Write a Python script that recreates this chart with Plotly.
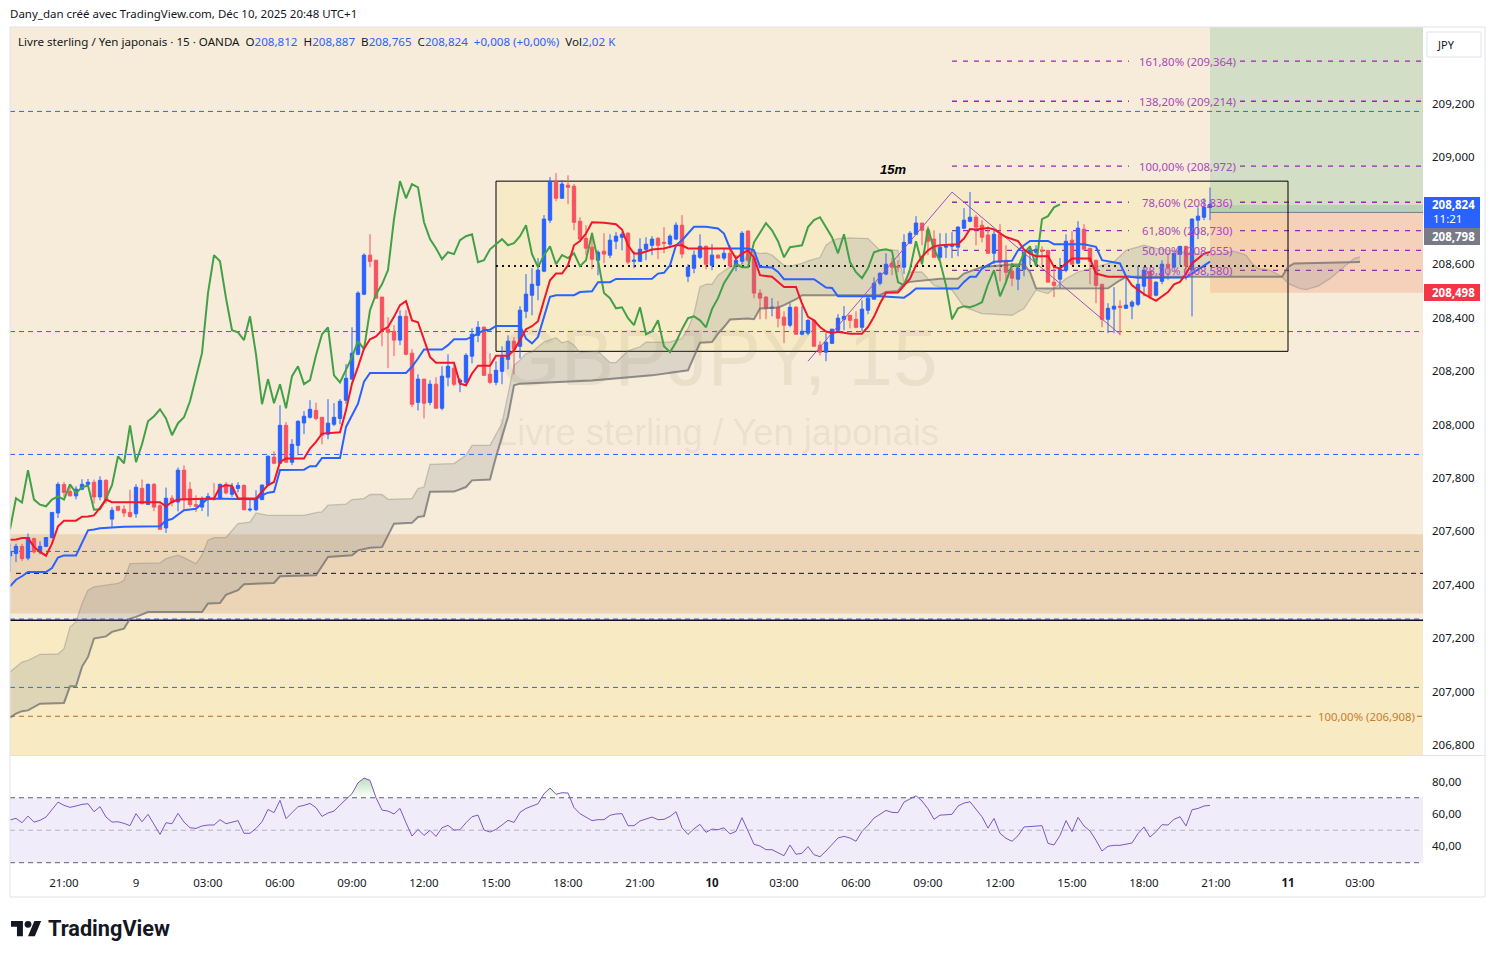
import plotly.graph_objects as go

W = 1495
H = 958
UI_FONT = "Noto Sans"

# Bars are counted in 15 minute steps from Dec 8 21:00
first_bar = -9
opens = [
    207.508, 207.517, 207.544, 207.500, 207.573, 207.523, 207.544, 207.577, 207.669, 207.775,
    207.750, 207.733, 207.758, 207.776, 207.784, 207.729, 207.791, 207.646, 207.694, 207.683,
    207.671, 207.666, 207.761, 207.701, 207.776, 207.696, 207.613, 207.724, 207.710, 207.829,
    207.758, 207.700, 207.691, 207.719, 207.723, 207.723, 207.776, 207.739, 207.761, 207.772,
    207.680, 207.681,
    207.719, 207.773, 207.878, 207.855, 207.997, 207.859, 207.922, 208.006, 208.027, 208.053,
    208.027, 207.964, 208.001, 208.023, 208.091, 208.170, 208.263, 208.488, 208.634, 208.615,
    208.477, 208.357, 208.349, 208.316, 208.405, 208.267, 208.083, 208.170, 208.083, 208.151,
    208.061, 208.177, 208.211, 208.158, 208.158, 208.256, 208.334, 208.364, 208.188, 208.158,
    208.199, 208.244, 208.312, 208.293, 208.424, 208.484, 208.521, 208.574, 208.765, 208.911,
    208.847, 208.896, 208.892, 208.761, 208.697, 208.664, 208.615, 208.649, 208.634, 208.686,
    208.701, 208.716, 208.611, 208.611, 208.656, 208.671, 208.697, 208.682, 208.675, 208.694,
    208.746, 208.555, 208.585, 208.626, 208.667, 208.596, 208.634, 208.623, 208.641, 208.593,
    208.611, 208.724, 208.623, 208.492, 208.477, 208.435, 208.439, 208.402, 208.372, 208.439,
    208.338, 208.342, 208.390, 208.297, 208.271, 208.304, 208.353, 208.394, 208.409, 208.394,
    208.364, 208.428, 208.469, 208.529, 208.563, 208.604, 208.593, 208.589, 208.679, 208.712,
    208.754, 208.727, 208.694, 208.626, 208.664, 208.667, 208.664, 208.735, 208.761, 208.776,
    208.746, 208.709, 208.641, 208.712, 208.615, 208.574, 208.544, 208.581, 208.641, 208.645,
    208.652, 208.652, 208.533, 208.544, 208.578, 208.690, 208.604, 208.731, 208.660, 208.615,
    208.525, 208.394, 208.432, 208.443, 208.435, 208.443, 208.450, 208.518, 208.574, 208.484,
    208.536, 208.600, 208.589, 208.637, 208.667, 208.578, 208.765, 208.776, 208.812,
]
highs = [
    207.554, 207.554, 207.554, 207.592, 207.577, 207.563, 207.579, 207.671, 207.784, 207.785,
    207.773, 207.769, 207.795, 207.796, 207.794, 207.806, 207.795, 207.691, 207.694, 207.698,
    207.756, 207.776, 207.794, 207.779, 207.781, 207.704, 207.764, 207.735, 207.839, 207.847,
    207.785, 207.735, 207.731, 207.744, 207.781, 207.779, 207.785, 207.781, 207.784, 207.776,
    207.719, 207.754,
    207.776, 207.885, 207.900, 208.072, 208.009, 207.945, 208.016, 208.050, 208.091, 208.082,
    208.027, 208.095, 208.080, 208.095, 208.226, 208.364, 208.499, 208.641, 208.712, 208.615,
    208.477, 208.402, 208.372, 208.428, 208.428, 208.282, 208.188, 208.170, 208.166, 208.177,
    208.218, 208.263, 208.222, 208.173, 208.267, 208.360, 208.387, 208.368, 208.267, 208.237,
    208.293, 208.334, 208.327, 208.443, 208.563, 208.585, 208.623, 208.784, 208.926, 208.941,
    208.915, 208.933, 208.900, 208.776, 208.746, 208.720, 208.652, 208.716, 208.712, 208.720,
    208.720, 208.720, 208.649, 208.697, 208.701, 208.705, 208.701, 208.739, 208.712, 208.757,
    208.784, 208.600, 208.652, 208.712, 208.671, 208.675, 208.637, 208.660, 208.671, 208.634,
    208.724, 208.727, 208.652, 208.506, 208.480, 208.473, 208.462, 208.424, 208.454, 208.443,
    208.443, 208.394, 208.390, 208.312, 208.342, 208.357, 208.413, 208.443, 208.409, 208.424,
    208.465, 208.484, 208.551, 208.570, 208.641, 208.623, 208.615, 208.712, 208.724, 208.780,
    208.754, 208.742, 208.727, 208.716, 208.716, 208.720, 208.742, 208.810, 208.870, 208.784,
    208.765, 208.742, 208.727, 208.750, 208.671, 208.600, 208.600, 208.656, 208.667, 208.671,
    208.667, 208.652, 208.590, 208.623, 208.712, 208.724, 208.761, 208.750, 208.660, 208.615,
    208.525, 208.454, 208.514, 208.465, 208.551, 208.465, 208.593, 208.589, 208.574, 208.536,
    208.615, 208.641, 208.641, 208.667, 208.667, 208.772, 208.813, 208.847, 208.887,
]
lows = [
    207.448, 207.485, 207.489, 207.492, 207.517, 207.514, 207.542, 207.573, 207.650, 207.729,
    207.731, 207.720, 207.754, 207.773, 207.704, 207.716, 207.704, 207.614, 207.676, 207.654,
    207.651, 207.651, 207.701, 207.701, 207.676, 207.608, 207.594, 207.694, 207.675, 207.681,
    207.691, 207.673, 207.676, 207.656, 207.716, 207.719, 207.738, 207.729, 207.746, 207.679,
    207.674, 207.676,
    207.717, 207.769, 207.851, 207.854, 207.859, 207.848, 207.885, 207.964, 208.022, 208.016,
    207.926, 207.945, 207.994, 208.001, 208.078, 208.166, 208.259, 208.484, 208.589, 208.473,
    208.293, 208.211, 208.256, 208.297, 208.259, 208.065, 208.053, 208.023, 208.072, 208.061,
    208.053, 208.143, 208.143, 208.121, 208.143, 208.229, 208.308, 208.184, 208.151, 208.147,
    208.151, 208.207, 208.188, 208.247, 208.398, 208.409, 208.465, 208.570, 208.754, 208.836,
    208.847, 208.825, 208.727, 208.690, 208.634, 208.581, 208.559, 208.604, 208.623, 208.656,
    208.652, 208.600, 208.585, 208.608, 208.615, 208.634, 208.619, 208.641, 208.660, 208.690,
    208.623, 208.533, 208.566, 208.619, 208.581, 208.578, 208.623, 208.615, 208.593, 208.574,
    208.600, 208.608, 208.473, 208.394, 208.394, 208.405, 208.364, 208.304, 208.364, 208.338,
    208.334, 208.334, 208.293, 208.259, 208.237, 208.301, 208.345, 208.353, 208.360, 208.360,
    208.349, 208.413, 208.469, 208.521, 208.559, 208.559, 208.570, 208.563, 208.675, 208.709,
    208.671, 208.634, 208.626, 208.615, 208.623, 208.623, 208.630, 208.731, 208.757, 208.671,
    208.682, 208.640, 208.600, 208.536, 208.528, 208.518, 208.503, 208.555, 208.596, 208.596,
    208.596, 208.533, 208.477, 208.510, 208.570, 208.600, 208.600, 208.652, 208.525, 208.454,
    208.364, 208.342, 208.342, 208.334, 208.435, 208.394, 208.443, 208.480, 208.469, 208.480,
    208.525, 208.540, 208.585, 208.596, 208.540, 208.405, 208.694, 208.765, 208.765,
]
closes = [
    207.525, 207.544, 207.498, 207.577, 207.523, 207.544, 207.577, 207.671, 207.776, 207.746,
    207.733, 207.758, 207.776, 207.784, 207.729, 207.791, 207.719, 207.679, 207.679, 207.669,
    207.656, 207.765, 207.704, 207.776, 207.691, 207.608, 207.724, 207.708, 207.829, 207.719,
    207.700, 207.694, 207.719, 207.731, 207.719, 207.776, 207.744, 207.765, 207.772, 207.681,
    207.683, 207.723,
    207.773, 207.881, 207.855, 207.997, 207.859, 207.926, 208.012, 208.031, 208.057, 208.023,
    207.960, 208.005, 208.027, 208.087, 208.173, 208.267, 208.492, 208.634, 208.611, 208.473,
    208.353, 208.345, 208.316, 208.405, 208.263, 208.076, 208.170, 208.080, 208.151, 208.061,
    208.181, 208.218, 208.151, 208.166, 208.259, 208.338, 208.364, 208.184, 208.158, 208.203,
    208.252, 208.312, 208.282, 208.428, 208.488, 208.525, 208.578, 208.769, 208.911, 208.847,
    208.900, 208.888, 208.757, 208.694, 208.660, 208.619, 208.645, 208.638, 208.690, 208.705,
    208.712, 208.608, 208.615, 208.656, 208.675, 208.694, 208.671, 208.679, 208.705, 208.746,
    208.638, 208.589, 208.634, 208.667, 208.600, 208.634, 208.623, 208.641, 208.593, 208.615,
    208.716, 208.615, 208.492, 208.473, 208.435, 208.439, 208.398, 208.372, 208.439, 208.338,
    208.349, 208.390, 208.293, 208.271, 208.308, 208.357, 208.398, 208.405, 208.390, 208.364,
    208.432, 208.473, 208.529, 208.566, 208.600, 208.589, 208.589, 208.682, 208.716, 208.754,
    208.727, 208.686, 208.626, 208.664, 208.667, 208.671, 208.739, 208.765, 208.776, 208.739,
    208.701, 208.641, 208.712, 208.608, 208.570, 208.548, 208.585, 208.645, 208.652, 208.656,
    208.649, 208.533, 208.521, 208.581, 208.686, 208.600, 208.735, 208.656, 208.611, 208.521,
    208.394, 208.435, 208.443, 208.439, 208.447, 208.458, 208.525, 208.578, 208.480, 208.533,
    208.600, 208.589, 208.641, 208.667, 208.593, 208.769, 208.780, 208.813, 208.824,
]

# Ichimoku lagging line
chikou = [
    207.608, 207.724, 207.708, 207.829, 207.719, 207.700, 207.694, 207.719, 207.731, 207.719,
    207.776, 207.744, 207.765, 207.772, 207.681, 207.683, 207.723,
    207.773, 207.881, 207.855, 207.997, 207.859, 207.926, 208.012, 208.031, 208.057, 208.023,
    207.960, 208.005, 208.027, 208.087, 208.173, 208.267, 208.492, 208.634, 208.611, 208.473,
    208.353, 208.345, 208.316, 208.405, 208.263, 208.076, 208.170, 208.080, 208.151, 208.061,
    208.181, 208.218, 208.151, 208.166, 208.259, 208.338, 208.364, 208.184, 208.158, 208.203,
    208.252, 208.312, 208.282, 208.428, 208.488, 208.525, 208.578, 208.769, 208.911, 208.847,
    208.900, 208.888, 208.757, 208.694, 208.660, 208.619, 208.645, 208.638, 208.690, 208.705,
    208.712, 208.608, 208.615, 208.656, 208.675, 208.694, 208.671, 208.679, 208.705, 208.746,
    208.638, 208.589, 208.634, 208.667, 208.600, 208.634, 208.623, 208.641, 208.593, 208.615,
    208.716, 208.615, 208.492, 208.473, 208.435, 208.439, 208.398, 208.372, 208.439, 208.338,
    208.349, 208.390, 208.293, 208.271, 208.308, 208.357, 208.398, 208.405, 208.390, 208.364,
    208.432, 208.473, 208.529, 208.566, 208.600, 208.589, 208.589, 208.682, 208.716, 208.754,
    208.727, 208.686, 208.626, 208.664, 208.667, 208.671, 208.739, 208.765, 208.776, 208.739,
    208.701, 208.641, 208.712, 208.608, 208.570, 208.548, 208.585, 208.645, 208.652, 208.656,
    208.649, 208.533, 208.521, 208.581, 208.686, 208.600, 208.735, 208.656, 208.611, 208.521,
    208.394, 208.435, 208.443, 208.439, 208.447, 208.458, 208.525, 208.578, 208.480, 208.533,
    208.600, 208.589, 208.641, 208.667, 208.593, 208.769, 208.780, 208.813, 208.824,
]

# Tenkan and Kijun are step like, so only their corners are listed
tenkan_bars = [
    -9, -8, -7, -6, -5, -4, -3, -2, -1, 0, 2, 3, 4, 5, 6, 7, 8, 16, 17, 18, 19, 25, 26, 27, 28, 29, 32, 33, 34,
    35, 36, 37, 40, 41, 42, 43, 46, 47, 48, 49, 50, 51, 52, 53, 54, 55, 56, 57, 58, 59, 60, 61, 62, 65, 66, 67,
    68, 69, 71, 72, 74, 75, 76, 77, 78, 79, 80, 81, 82, 83, 84, 85, 86, 87, 88, 90, 92, 93, 94, 95, 96, 98, 100,
    102, 103, 104, 111, 112, 113, 114, 115, 116, 118, 120, 122, 123, 124, 125, 126, 127, 128, 129, 131, 133, 134,
    135, 136, 137, 139, 140, 141, 142, 143, 144, 145, 146, 148, 149, 150, 151, 152, 154, 155, 156, 157, 159, 160,
    161, 162, 164, 165, 166, 168, 171, 172, 174, 177, 178, 180, 182, 183, 184, 185, 186, 187, 188, 189, 190, 191,
]
tenkan = [
    207.569, 207.570, 207.575, 207.575, 207.542, 207.523, 207.509, 207.554, 207.619, 207.640, 207.640, 207.655,
    207.656, 207.660, 207.688, 207.719, 207.709, 207.709, 207.694, 207.710, 207.719, 207.723, 207.766, 207.773,
    207.770, 207.723, 207.723, 207.750, 207.773, 207.785, 207.860, 207.873, 207.873, 207.910, 207.935, 207.966,
    207.971, 208.053, 208.153, 208.216, 208.284, 208.319, 208.330, 208.353, 208.365, 208.403, 208.447, 208.462,
    208.390, 208.383, 208.316, 208.253, 208.231, 208.231, 208.153, 208.147, 208.191, 208.220, 208.220, 208.257,
    208.257, 208.278, 208.316, 208.357, 208.368, 208.387, 208.465, 208.540, 208.565, 208.565, 208.596, 208.671,
    208.687, 208.715, 208.757, 208.755, 208.750, 208.730, 208.671, 208.640, 208.640, 208.655, 208.659, 208.671,
    208.671, 208.659, 208.659, 208.621, 208.640, 208.652, 208.625, 208.559, 208.553, 208.515, 208.515, 208.453,
    208.403, 208.390, 208.365, 208.348, 208.343, 208.347, 208.340, 208.340, 208.365, 208.403, 208.453, 208.493,
    208.494, 208.521, 208.546, 208.596, 208.628, 208.652, 208.667, 208.671, 208.672, 208.675, 208.696, 208.732,
    208.730, 208.736, 208.730, 208.715, 208.702, 208.687, 208.655, 208.640, 208.630, 208.630, 208.590, 208.584,
    208.621, 208.621, 208.565, 208.553, 208.553, 208.521, 208.488, 208.463, 208.478, 208.496, 208.525, 208.534,
    208.565, 208.603, 208.621, 208.640, 208.646,
]
kijun_bars = [
    -9, -8, -7, -6, -3, -2, -1, 0, 2, 3, 4, 5, 6, 10, 15, 16, 17, 18, 20, 22, 23, 24, 32, 33, 34, 35, 36, 40, 41,
    42, 43, 46, 47, 49, 50, 51, 57, 58, 59, 60, 63, 64, 65, 67, 68, 69, 70, 71, 72, 76, 77, 78, 79, 80, 81, 82, 85,
    86, 88, 89, 91, 92, 98, 99, 100, 101, 102, 103, 104, 105, 107, 109, 110, 111, 114, 115, 116, 118, 119, 120, 125,
    126, 127, 128, 129, 136, 140, 141, 142, 149, 150, 151, 152, 153, 154, 155, 158, 159, 160, 161, 164, 165, 170,
    172, 173, 175, 176, 177, 179, 187, 188, 190, 191,
]
kijun = [
    207.394, 207.419, 207.432, 207.448, 207.448, 207.463, 207.502, 207.510, 207.510, 207.554, 207.604, 207.607,
    207.612, 207.617, 207.617, 207.619, 207.641, 207.646, 207.679, 207.685, 207.704, 207.723, 207.720, 207.735,
    207.745, 207.748, 207.830, 207.831, 207.844, 207.844, 207.875, 207.875, 207.991, 208.078, 208.160, 208.193,
    208.193, 208.216, 208.247, 208.281, 208.281, 208.297, 208.319, 208.319, 208.328, 208.340, 208.353, 208.355,
    208.369, 208.369, 208.322, 208.304, 208.328, 208.403, 208.478, 208.484, 208.484, 208.496, 208.499, 208.533,
    208.533, 208.545, 208.546, 208.565, 208.568, 208.596, 208.671, 208.690, 208.715, 208.740, 208.740, 208.734,
    208.715, 208.659, 208.659, 208.652, 208.590, 208.588, 208.571, 208.544, 208.544, 208.528, 208.513, 208.511,
    208.480, 208.480, 208.475, 208.490, 208.509, 208.509, 208.534, 208.553, 208.553, 208.584, 208.596, 208.609,
    208.613, 208.652, 208.671, 208.687, 208.687, 208.675, 208.675, 208.665, 208.615, 208.606, 208.603, 208.555,
    208.549, 208.550, 208.565, 208.596, 208.610,
]

# Cloud edges
span_a_bars = [
    -9, -8, -7, -6, -4, -1, 0, 1, 2, 3, 4, 5, 7, 9, 10, 11, 16, 17, 19, 20, 22, 23, 24, 25, 27, 29, 31, 32, 34, 40,
    42, 43, 44, 47, 48, 50, 51, 53, 54, 58, 59, 60, 61, 65, 67, 68, 71, 73, 75, 76, 77, 78, 80, 82, 83, 84, 85, 86,
    89, 90, 91, 92, 93, 94, 96, 97, 101, 103, 104, 105, 106, 107, 108, 109, 111, 112, 113, 114, 115, 116, 117, 118,
    120, 121, 123, 124, 126, 127, 128, 129, 131, 134, 136, 137, 139, 140, 141, 143, 144, 145, 148, 149, 150, 153,
    158, 160, 162, 164, 167, 169, 171, 175, 177, 180, 182, 188, 191, 193, 195, 197, 198, 199, 201, 203, 204, 206,
    207, 209, 211, 213, 215, 216,
]
span_a = [
    207.074, 207.093, 207.111, 207.117, 207.140, 207.141, 207.161, 207.242, 207.261, 207.330, 207.380, 207.392,
    207.398, 207.405, 207.417, 207.479, 207.482, 207.498, 207.511, 207.502, 207.479, 207.511, 207.567, 207.577,
    207.577, 207.629, 207.635, 207.669, 207.660, 207.660, 207.670, 207.673, 207.698, 207.702, 207.719, 207.723,
    207.738, 207.738, 207.720, 207.723, 207.760, 207.766, 207.851, 207.854, 207.885, 207.922, 207.922, 208.004,
    208.222, 208.241, 208.266, 208.272, 208.309, 208.325, 208.306, 208.312, 208.297, 208.269, 208.274, 208.253,
    208.232, 208.232, 208.256, 208.276, 208.291, 208.308, 208.309, 208.322, 208.359, 208.415, 208.515, 208.525,
    208.525, 208.559, 208.590, 208.599, 208.599, 208.640, 208.646, 208.640, 208.642, 208.634, 208.596, 208.593,
    208.603, 208.613, 208.625, 208.671, 208.687, 208.696, 208.699, 208.696, 208.652, 208.655, 208.652, 208.534,
    208.571, 208.571, 208.546, 208.521, 208.503, 208.472, 208.440, 208.415, 208.409, 208.434, 208.503, 208.490,
    208.546, 208.571, 208.584, 208.609, 208.652, 208.671, 208.659, 208.640, 208.634, 208.640, 208.649, 208.634,
    208.603, 208.584, 208.578, 208.553, 208.528, 208.509, 208.505, 208.518, 208.546, 208.584, 208.621, 208.628,
]
span_b_bars = [
    -9, -8, -7, -6, -4, 0, 1, 2, 3, 4, 5, 7, 8, 10, 11, 12, 14, 23, 24, 26, 27, 29, 30, 35, 36, 42, 44, 48, 49, 51,
    53, 55, 58, 59, 60, 61, 65, 67, 68, 71, 72, 74, 75, 76, 88, 98, 104, 105, 106, 108, 109, 110, 111, 114, 115, 116,
    119, 120, 122, 123, 136, 137, 139, 140, 141, 146, 149, 150, 153, 158, 160, 161, 162, 164, 174, 176, 177, 203, 204,
    205, 214, 216,
]
span_b = [
    206.903, 206.918, 206.927, 206.930, 206.955, 206.958, 207.020, 207.020, 207.093, 207.130, 207.199, 207.207,
    207.224, 207.236, 207.273, 207.280, 207.298, 207.298, 207.330, 207.332, 207.363, 207.380, 207.402, 207.407,
    207.432, 207.436, 207.504, 207.511, 207.529, 207.539, 207.541, 207.629, 207.632, 207.654, 207.657, 207.748,
    207.749, 207.766, 207.791, 207.794, 207.879, 208.029, 208.147, 208.153, 208.165, 208.184, 208.203, 208.253,
    208.306, 208.309, 208.340, 208.365, 208.393, 208.397, 208.394, 208.434, 208.438, 208.447, 208.469, 208.484,
    208.484, 208.496, 208.500, 208.528, 208.534, 208.546, 208.546, 208.565, 208.590, 208.599, 208.599, 208.571,
    208.510, 208.509, 208.510, 208.540, 208.553, 208.553, 208.590, 208.603, 208.605, 208.608,
]

rsi = [
    56.3, 57.3, 54.6, 58.7, 55.0, 56.1, 58.1, 62.8, 67.3, 65.3,
    64.1, 64.9, 65.9, 66.3, 61.4, 64.5, 58.1, 55.0, 55.2, 54.2,
    52.8, 60.2, 55.2, 59.8, 53.2, 47.4, 54.6, 54.0, 60.4, 55.0,
    51.5, 51.1, 52.6, 53.2, 53.2, 56.5, 54.0, 55.0, 55.9, 48.1,
    48.1, 51.1, 55.2, 62.8, 60.8, 68.4, 57.1, 60.8, 64.5, 65.3,
    66.5, 63.9, 58.5, 60.6, 61.8, 65.5, 69.0, 72.5, 79.2, 82.1,
    80.7, 70.0, 62.4, 61.8, 60.0, 63.4, 54.6, 46.4, 50.5, 46.8,
    49.9, 46.2, 51.5, 53.0, 50.1, 50.3, 54.6, 58.3, 59.3, 50.1,
    48.9, 50.5, 53.2, 56.1, 54.8, 61.0, 63.4, 64.9, 66.3, 72.5,
    76.0, 72.1, 73.1, 72.9, 63.9, 60.2, 58.1, 55.9, 56.5, 56.5,
    59.2, 60.0,
    60.2, 52.8, 52.8, 55.7, 56.9, 58.1, 56.5, 56.7, 58.5, 61.4,
    51.5, 47.4, 50.9, 53.6, 48.7, 50.7, 50.3, 51.5, 47.7, 49.3,
    57.7, 49.5, 41.3, 40.3, 38.0, 38.0, 36.0, 34.3, 40.9, 35.2,
    35.8, 39.9, 34.9, 33.7, 37.2, 41.3, 45.2, 46.2, 45.2, 43.2,
    49.3, 53.0, 57.5, 59.8, 62.2, 61.0, 60.8, 67.3, 69.4, 71.2,
    68.0, 63.2, 56.7, 59.3, 59.5, 59.8, 64.9, 66.7, 67.5, 62.8,
    58.3, 51.3, 57.3, 48.1, 45.0, 43.2, 46.6, 52.0, 52.4, 52.8,
    52.8, 41.9, 40.9, 46.8, 55.9, 49.1, 57.9, 52.6, 49.5, 43.8,
    37.2, 40.1, 40.7, 40.7, 41.3, 42.1, 47.9, 52.0, 45.8, 49.1,
    53.4, 53.2, 56.7, 58.3, 52.6, 62.6, 63.4, 64.9, 65.3,
]

# Drawn levels and zones, in price
blue_levels = [209.172, 208.348, 207.888, 207.525, 207.272, 207.016]
black_dash_level = 207.443
black_solid_level = 207.267
box_dotted_level = 208.593
orange_level = 206.908
upper_zone = (207.293, 207.589)
box_bars = (72, 204)
box_prices = (208.274, 208.911)
zigzag_bars = [124, 148, 176]
zigzag_prices = [208.237, 208.870, 208.338]
fib_start_bar = 148
fib_levels = [209.360, 209.210, 208.967, 208.832, 208.726, 208.652, 208.577]
fib_labels = ["161,80% (209,364)", "138,20% (209,214)", "100,00% (208,972)", "78,60% (208,836)",
              "61,80% (208,730)", "50,00% (208,655)", "38,20% (208,580)"]
position_bar = 191
entry_price = 208.794
stop_price = 208.493
last_price = 208.822

price_ticks = [209.2, 209.0, 208.6, 208.4, 208.2, 208.0, 207.8, 207.6, 207.4, 207.2, 207.0, 206.8]
price_tick_labels = ["209,200", "209,000", "208,600", "208,400", "208,200", "208,000", "207,800",
                     "207,600", "207,400", "207,200", "207,000", "206,800"]
rsi_ticks = [40, 60, 80]
rsi_tick_labels = ["40,00", "60,00", "80,00"]
time_ticks = [0, 12, 24, 36, 48, 60, 72, 84, 96, 108, 120, 132, 144, 156, 168, 180, 192, 204, 216]
time_labels = ["21:00", "9", "03:00", "06:00", "09:00", "12:00", "15:00", "18:00", "21:00", "<b>10</b>", "03:00",
               "06:00", "09:00", "12:00", "15:00", "18:00", "21:00", "<b>11</b>", "03:00"]

x_range = [-9, 226.5]
y_range = [206.763, 209.488]
rsi_range = [25.5, 95.7]

bars = list(range(first_bar, first_bar + len(closes)))
chikou_bars = bars[:len(chikou)]
assert len(opens) == len(highs) == len(lows) == len(closes) == len(rsi) == 201
assert len(tenkan_bars) == len(tenkan), (len(tenkan_bars), len(tenkan))
assert len(kijun_bars) == len(kijun), (len(kijun_bars), len(kijun))
assert len(span_a_bars) == len(span_a), (len(span_a_bars), len(span_a))
assert len(span_b_bars) == len(span_b), (len(span_b_bars), len(span_b))

UP = "#2962ff"
DOWN = "#f7525f"
PURPLE = "#9c27b0"
BLUE_DASH = "#2962ff"


def px(x):
    return x / W


def py(y):
    return 1 - y / H


fig = go.Figure()

# Watermark goes first so that everything sits on top of it
fig.add_trace(go.Scatter(
    x=[109, 109], y=[208.222, 207.956], mode="text", text=["GBPJPY, 15", "Livre sterling / Yen japonais"],
    textfont=dict(family="Liberation Sans", size=[80, 36.3], color="rgba(130,115,80,0.1)"),
    hoverinfo="skip",
))

fig.add_trace(go.Candlestick(
    x=bars, open=opens, high=highs, low=lows, close=closes,
    increasing=dict(line=dict(color=UP, width=1), fillcolor=UP),
    decreasing=dict(line=dict(color=DOWN, width=1), fillcolor=DOWN),
))

# Cloud
fig.add_trace(go.Scatter(x=span_b_bars, y=span_b, mode="lines", line=dict(color="rgba(110,110,110,0.75)", width=2)))
fig.add_trace(go.Scatter(x=span_a_bars, y=span_a, mode="lines", line=dict(color="rgba(120,120,120,0.35)", width=1.3),
                         fill="tonexty", fillcolor="rgba(120,123,134,0.2)"))

fig.add_trace(go.Scatter(x=zigzag_bars, y=zigzag_prices, mode="lines", line=dict(color="#a04fc0", width=1)))
fig.add_trace(go.Scatter(x=chikou_bars, y=chikou, mode="lines", line=dict(color="#43a047", width=2)))
fig.add_trace(go.Scatter(x=kijun_bars, y=kijun, mode="lines", line=dict(color="#2962ff", width=2)))
fig.add_trace(go.Scatter(x=tenkan_bars, y=tenkan, mode="lines", line=dict(color="#f0162c", width=2)))

# RSI pane
fig.add_trace(go.Scatter(x=bars, y=[70] * len(bars), mode="lines", line=dict(width=0), xaxis="x2", yaxis="y2"))
fig.add_trace(go.Scatter(x=bars, y=[max(v, 70) for v in rsi], mode="lines", line=dict(width=0),
                         fill="tonexty", xaxis="x2", yaxis="y2",
                         fillgradient=dict(type="vertical", start=70, stop=84,
                                           colorscale=[[0, "rgba(76,175,80,0)"], [1, "rgba(76,175,80,0.45)"]])))
fig.add_trace(go.Scatter(x=bars, y=rsi, mode="lines", line=dict(color="#7e57c2", width=1), xaxis="x2", yaxis="y2"))

shapes = []


def zone(x0, x1, y0, y1, color):
    shapes.append(dict(type="rect", xref="x", yref="y", x0=x0, x1=x1, y0=y0, y1=y1,
                       fillcolor=color, line_width=0, layer="below"))


def level(x0, x1, y, color, dash="dash", width=1):
    shapes.append(dict(type="line", xref="x", yref="y", x0=x0, x1=x1, y0=y, y1=y,
                       line=dict(color=color, width=width, dash=dash), layer="below"))


# second pane has a white background
shapes.append(dict(type="rect", xref="paper", yref="paper", x0=px(10), x1=px(1423), y0=py(897), y1=py(755.5),
                   fillcolor="#ffffff", line_width=0, layer="below"))

zone(x_range[0], x_range[1], y_range[0], black_solid_level, "#f8ebc4")
zone(x_range[0], x_range[1], upper_zone[0], upper_zone[1], "#ecd5b6")
zone(box_bars[0], box_bars[1], box_prices[0], box_prices[1], "rgba(255,236,132,0.2)")
zone(position_bar, x_range[1], entry_price, y_range[1], "rgba(71,171,127,0.2)")
zone(position_bar, x_range[1], entry_price, last_price, "rgba(71,171,127,0.2)")
zone(position_bar, x_range[1], stop_price, entry_price, "rgba(246,106,77,0.2)")

for price in blue_levels:
    level(x_range[0], x_range[1], price, BLUE_DASH, "5px,4px")
level(-8, x_range[1], black_dash_level, "#111111", "5px,4px")
level(x_range[0], x_range[1], black_solid_level, "#111111", "solid", 1.5)
level(box_bars[0], box_bars[1], box_dotted_level, "#111111", "2px,4px", 2)
level(position_bar, x_range[1], entry_price, "#787b86", "solid", 1)
level(x_range[0], 208, orange_level, "#b8691d", "5px,4px")
level(225.5, x_range[1], orange_level, "#b8691d", "5px,4px")

for price in fib_levels:
    level(fib_start_bar, 177.5, price, PURPLE, "5px,6px", 1.3)
    level(196, x_range[1], price, PURPLE, "5px,6px", 1.3)

shapes.append(dict(type="rect", xref="x", yref="y", x0=box_bars[0], x1=box_bars[1], y0=box_prices[0], y1=box_prices[1],
                   line=dict(color="#000000", width=1), layer="below"))

# RSI band
shapes.append(dict(type="rect", xref="x2", yref="y2", x0=x_range[0], x1=x_range[1], y0=30, y1=70,
                   fillcolor="#f0ecf9", line_width=0, layer="below"))
for value, color in [(70, "#5d5f6b"), (50, "#b5b3c0"), (30, "#5d5f6b")]:
    shapes.append(dict(type="line", xref="x2", yref="y2", x0=x_range[0], x1=x_range[1], y0=value, y1=value,
                       line=dict(color=color, width=1, dash="5px,4px"), layer="below"))


def page_rect(x0, y0, x1, y1, fill="rgba(0,0,0,0)", line="rgba(0,0,0,0)"):
    shapes.append(dict(type="rect", xref="paper", yref="paper", x0=px(x0), x1=px(x1), y0=py(y1), y1=py(y0),
                       fillcolor=fill, line=dict(color=line, width=1), layer="above"))


# Chart frame and pane separator
page_rect(10, 27, 1485, 897, line="#e0e3eb")
shapes.append(dict(type="line", xref="paper", yref="paper", x0=px(10), x1=px(1485), y0=py(755.5), y1=py(755.5),
                   line=dict(color="#e0e3eb", width=1), layer="above"))

# Price tags on the scale
page_rect(1427, 32, 1481, 57, fill="#ffffff", line="#e0e3eb")
page_rect(1424, 197, 1480, 228, fill="#2962ff")
page_rect(1424, 228, 1480, 245, fill="#787b86")
page_rect(1424, 284, 1480, 301, fill="#f23645")

# TradingView logo
logo_t = [(14, 22), (7, 22), (7, 11), (0, 11), (0, 4), (14, 4)]
logo_slash = [(28, 22), (20, 22), (27.5, 4), (35.5, 4)]
for poly in [logo_t, logo_slash]:
    path = "M" + " L".join(f"{px(11 + u * 0.85):.5f},{py(917.5 + v * 0.85):.5f}" for u, v in poly) + " Z"
    shapes.append(dict(type="path", xref="paper", yref="paper", path=path, fillcolor="#131722", line_width=0))
shapes.append(dict(type="circle", xref="paper", yref="paper", x0=px(11 + 16 * 0.85), x1=px(11 + 24 * 0.85),
                   y0=py(917.5 + 12 * 0.85), y1=py(917.5 + 4 * 0.85), fillcolor="#131722", line_width=0))

annotations = []


def page_text(x, y, text, size=11.5, color="#131722", anchor="left", family=UI_FONT):
    annotations.append(dict(xref="paper", yref="paper", x=px(x), y=py(y), text=text, showarrow=False, xanchor=anchor,
                            yanchor="middle", align=anchor, font=dict(family=family, size=size, color=color)))


def blue(text):
    return f'<span style="color:{UP}">{text}</span>'


page_text(8, 14, "Dany_dan créé avec TradingView.com, Déc 10, 2025 20:48 UTC+1", size=11.5)
page_text(16, 42, "Livre sterling / Yen japonais · 15 · OANDA&nbsp;&nbsp;O" + blue("208,812") + "&nbsp;&nbsp;H" + blue("208,887")
          + "&nbsp;&nbsp;B" + blue("208,765") + "&nbsp;&nbsp;C" + blue("208,824") + "&nbsp;&nbsp;" + blue("+0,008 (+0,00%)")
          + "&nbsp;&nbsp;Vol" + blue("2,02 K"), size=11.6)
page_text(1446, 44.5, "JPY", size=11, anchor="center")
page_text(1453, 204.5, "<b>208,824</b>", size=11.5, color="#ffffff", anchor="center")
page_text(1447, 219, "11:21", size=11.5, color="#ffffff", anchor="center")
page_text(1453, 236.5, "<b>208,798</b>", size=11.5, color="#ffffff", anchor="center")
page_text(1453, 292.5, "<b>208,498</b>", size=11.5, color="#ffffff", anchor="center")
page_text(46, 928, "<b>TradingView</b>", size=21.7, family="Roboto")

# Text tied to the price scale
annotations.append(dict(xref="x", yref="y", x=138.2, y=208.956, text="<b><i>15m</i></b>", showarrow=False,
                        font=dict(family="Liberation Sans", size=13, color="#000000")))
for price, label in zip(fib_levels, fib_labels):
    annotations.append(dict(xref="x", yref="y", x=187.3, y=price, text=label, showarrow=False,
                            font=dict(family=UI_FONT, size=11.4, color="#ab47bc")))
annotations.append(dict(xref="x", yref="y", x=217, y=orange_level, text="100,00% (206,908)", showarrow=False,
                        font=dict(family=UI_FONT, size=11.4, color="#c77c2e")))

fig.update_layout(
    width=W,
    height=H,
    margin=dict(l=0, r=0, t=0, b=0),
    paper_bgcolor="#ffffff",
    plot_bgcolor="#f6ecd9",
    showlegend=False,
    boxgap=0.2,
    shapes=shapes,
    annotations=annotations,
    font=dict(family=UI_FONT, size=11.5, color="#131722"),
    xaxis=dict(domain=[px(10), px(1423)], range=x_range, rangeslider=dict(visible=False), showgrid=False, zeroline=False,
               showticklabels=False, ticks="", anchor="y"),
    yaxis=dict(domain=[py(755), py(27)], range=y_range, side="right", showgrid=False, zeroline=False, anchor="x",
               tickmode="array", tickvals=price_ticks, ticktext=price_tick_labels, ticks="", ticklabelstandoff=8),
    xaxis2=dict(domain=[px(10), px(1423)], range=x_range, showgrid=False, zeroline=False, anchor="y2",
                tickmode="array", tickvals=time_ticks, ticktext=time_labels, ticks="", ticklabelstandoff=4),
    yaxis2=dict(domain=[py(870), py(756)], range=rsi_range, side="right", showgrid=False, zeroline=False, anchor="x2",
                tickmode="array", tickvals=rsi_ticks, ticktext=rsi_tick_labels, ticks="", ticklabelstandoff=8),
)

fig.write_html("out.html", config=dict(displayModeBar=False),
               post_script="document.body.style.margin='0';document.body.style.overflow='hidden';")
